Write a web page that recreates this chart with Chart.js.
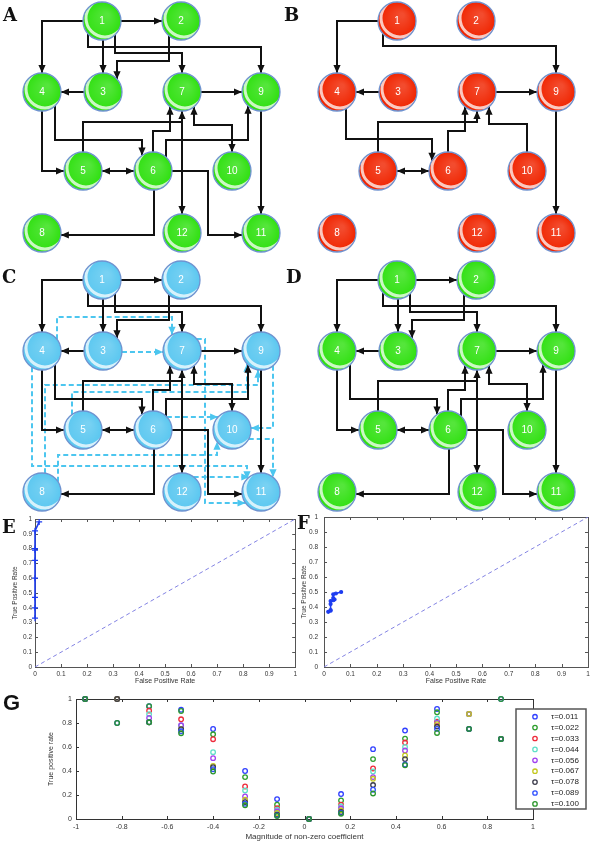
<!DOCTYPE html>
<html><head><meta charset="utf-8">
<script src="https://cdn.jsdelivr.net/npm/chart.js@4.4.1/dist/chart.umd.min.js"></script>
<style>
body{margin:0;background:#fff;width:600px;height:843px;position:relative;overflow:hidden}
canvas{position:absolute}
.lbl{position:absolute;font:bold 18px "DejaVu Serif",serif;color:#111;line-height:18px}
.lblG{position:absolute;font:bold 22px "Liberation Sans",Arial,sans-serif;color:#111;line-height:22px}
</style></head><body>
<canvas id="cA" width="300" height="255" style="left:0;top:0"></canvas>
<canvas id="cB" width="300" height="255" style="left:295px;top:0"></canvas>
<canvas id="cC" width="300" height="255" style="left:0;top:259px"></canvas>
<canvas id="cD" width="300" height="255" style="left:295px;top:259px"></canvas>
<canvas id="cE" width="300" height="190" style="left:0;top:505px"></canvas>
<canvas id="cF" width="300" height="190" style="left:296px;top:505px"></canvas>
<canvas id="cG" width="600" height="153" style="left:0;top:690px"></canvas>
<div class="lbl" style="left:3px;top:6px">A</div>
<div class="lbl" style="left:284px;top:6px">B</div>
<div class="lbl" style="left:2px;top:268px">C</div>
<div class="lbl" style="left:286px;top:268px">D</div>
<div class="lbl" style="left:2px;top:518px">E</div>
<div class="lbl" style="left:297px;top:514px">F</div>
<div class="lblG" style="left:3px;top:692px">G</div>
<script>
// ---------- network data (layout units) ----------
const nodeIds = ['1','2','3','4','5','6','7','8','9','10','11','12'];
const nodeX = [102,181,103,42,83,153,182,42,261,232,261,182];
const nodeY = [21,21,92,92,171,171,92,233,92,171,233,233];
// edge: [from, to, route points, bidirectional]
const trueEdges = [
 [1,2, [[102,21],[181,21]],0],
 [1,4, [[102,21],[42,21],[42,92]],0],
 [1,3, [[103,21],[103,92]],0],
 [2,3, [[169,21],[169,61],[117,61],[117,92]],0],
 [1,7, [[115,21],[115,53],[182,53],[182,92]],0],
 [1,9, [[88,21],[88,47],[261,47],[261,92]],0],
 [3,4, [[103,92],[42,92]],0],
 [7,9, [[182,92],[261,92]],0],
 [4,5, [[42,92],[42,171],[83,171]],0],
 [4,6, [[55,92],[55,140],[142,140],[142,171]],0],
 [5,7, [[83,171],[83,122],[182,122],[182,92]],0],
 [6,7, [[153,171],[153,131],[170,131],[170,92]],0],
 [5,6, [[83,171],[153,171]],1],
 [6,9, [[166,171],[166,140],[248,140],[248,92]],0],
 [7,10,[[194,92],[194,125],[232,125],[232,171]],1],
 [9,11,[[261,92],[261,233]],0],
 [6,8, [[154,171],[154,235],[42,235]],0],
 [6,11,[[153,171],[208,171],[208,235],[261,235]],0],
 [7,12,[[182,92],[182,233]],0]
];
const bEdges = [
 [1,4, [[102,21],[42,21],[42,92]],0],
 [1,9, [[88,21],[88,46],[261,46],[261,92]],0],
 [3,4, [[103,92],[42,92]],0],
 [7,9, [[182,92],[261,92]],0],
 [4,6, [[51,92],[51,139],[137,139],[137,171]],0],
 [5,6, [[83,171],[153,171]],1],
 [5,7, [[83,171],[83,122],[182,122],[182,92]],0],
 [6,7, [[153,171],[153,131],[170,131],[170,92]],0],
 [10,7,[[232,171],[232,124],[194,124],[194,92]],0],
 [9,11,[[261,92],[261,233]],0]
];
const cFalseEdges = [
 [4,7, [[57,92],[57,58],[172,58],[172,92]],0],
 [3,7, [[103,93],[182,93]],0],
 [7,11,[[190,80],[205,80],[205,244],[261,244]],0],
 [4,11,[[32,98],[32,207],[247,207],[247,233]],0],
 [8,9, [[45,233],[45,126],[258,126],[258,92]],0],
 [5,9, [[72,171],[72,133],[247,133],[247,92]],0],
 [6,10,[[160,158],[225,158]],0],
 [8,10,[[58,225],[58,196],[217,196],[217,180]],0],
 [9,10,[[273,100],[273,169],[232,169]],0],
 [10,11,[[245,180],[273,180],[273,233]],0],
 [12,11,[[190,218],[255,218]],0]
];

// ---------- ROC data ----------
const rocTicks = [0,0.1,0.2,0.3,0.4,0.5,0.6,0.7,0.8,0.9,1];
const eFpr = [0,0,0,0,0,0,0,0,0.016];
const eTpr = [0.33,0.40,0.47,0.60,0.72,0.79,0.80,0.92,0.98];
const fFpr = [0.016,0.025,0.025,0.025,0.025,0.035,0.040,0.035,0.035,0.045,0.065];
const fTpr = [0.368,0.375,0.38,0.42,0.44,0.445,0.45,0.46,0.485,0.49,0.50];
const diagX = [0,1];
const diagY = [0,1];

// ---------- panel G data ----------
const gX = [-0.96,-0.82,-0.68,-0.54,-0.40,-0.26,-0.12,0.02,0.16,0.30,0.44,0.58,0.72,0.86];
const gXTicks = [-1,-0.8,-0.6,-0.4,-0.2,0,0.2,0.4,0.6,0.8,1];
const gYTicks = [0,0.2,0.4,0.6,0.8,1];
const tauLabels = ['τ=0.011','τ=0.022','τ=0.033','τ=0.044','τ=0.056','τ=0.067','τ=0.078','τ=0.089','τ=0.100'];
const tau011 = [1,1,0.94,0.91,0.75,0.40,0.166,0,0.208,0.582,0.737,0.917,0.875,1];
const tau022 = [1,1,0.94,0.90,0.706,0.349,0.119,0,0.155,0.499,0.670,0.889,0.875,1];
const tau033 = [1,1,0.903,0.831,0.665,0.271,0.091,0,0.12,0.421,0.637,0.81,0.875,0.667];
const tau044 = [1,1,0.873,0.78,0.557,0.238,0.078,0,0.105,0.396,0.601,0.837,0.875,0.667];
const tau056 = [1,1,0.842,0.781,0.507,0.188,0.064,0,0.089,0.349,0.571,0.80,0.875,0.667];
const tau067 = [1,1,0.806,0.748,0.443,0.16,0.05,0,0.072,0.335,0.529,0.79,0.875,0.667];
const tau078 = [1,1,0.806,0.748,0.432,0.141,0.036,0,0.058,0.283,0.499,0.77,0.751,0.667];
const tau089 = [1,0.80,0.806,0.731,0.415,0.127,0.03,0,0.05,0.244,0.454,0.751,0.751,0.667];
const tau100 = [1,0.80,0.806,0.715,0.396,0.114,0.025,0,0.044,0.213,0.448,0.717,0.751,0.667];
const tauSeries = [tau011,tau022,tau033,tau044,tau056,tau067,tau078,tau089,tau100];
const tauColors = ['#2f3fff','#2e9e2e','#ee2a3a','#5fe0c8','#a040f0','#c4c81e','#3a3a4a','#2f4fff','#2a962a'];

// ---------- helpers ----------
const FONT = '"Liberation Sans", Arial, sans-serif';
const NODE_R = 19;
Chart.defaults.font.family = FONT;

function clipToCircle(P, Q, C, R) {
  const dx=Q[0]-P[0], dy=Q[1]-P[1], fx=P[0]-C[0], fy=P[1]-C[1];
  const a=dx*dx+dy*dy, b=2*(fx*dx+fy*dy), c=fx*fx+fy*fy-R*R;
  const disc=b*b-4*a*c;
  if (a===0 || disc<0) return P;
  const t=(-b+Math.sqrt(disc))/(2*a);
  if (t<0 || t>1) return P;
  return [P[0]+t*dx, P[1]+t*dy];
}
function edgeDataset(e, color, dashed) {
  const [f,t,path,both] = e;
  const pts = path.map(p=>p.slice());
  const n = pts.length;
  pts[0] = clipToCircle(pts[0], pts[1], [nodeX[f-1],nodeY[f-1]], NODE_R);
  pts[n-1] = clipToCircle(pts[n-1], pts[n-2], [nodeX[t-1],nodeY[t-1]], NODE_R);
  return {
    data: pts.map(p=>({x:p[0], y:p[1]})),
    showLine:true, borderColor:color, backgroundColor:color, borderWidth:2,
    borderDash: dashed ? [5,3] : [], borderJoinStyle:'miter',
    pointRadius:0, tension:0, fill:false,
    arrow:{end:true, start:!!both}, order: dashed ? 2 : 1
  };
}
const arrowPlugin = {
  id:'arrows',
  afterDatasetDraw(chart, args) {
    const ds = chart.data.datasets[args.index];
    if (!ds.arrow) return;
    const pts = args.meta.data, ctx = chart.ctx, n = pts.length;
    const draw = (a, b) => {
      const ang = Math.atan2(b.y-a.y, b.x-a.x), L = 8, W = 3.6;
      const c = Math.cos(ang), s = Math.sin(ang);
      ctx.save(); ctx.fillStyle = ds.borderColor; ctx.beginPath();
      ctx.moveTo(b.x, b.y);
      ctx.lineTo(b.x-L*c+W*s, b.y-L*s-W*c);
      ctx.lineTo(b.x-L*c-W*s, b.y-L*s+W*c);
      ctx.closePath(); ctx.fill(); ctx.restore();
    };
    if (ds.arrow.end) draw(pts[n-2], pts[n-1]);
    if (ds.arrow.start) draw(pts[1], pts[0]);
  }
};
const nodePlugin = {
  id:'nodes',
  afterDatasetsDraw(chart) {
    chart.data.datasets.forEach((ds, di) => {
      if (!ds.isNodes) return;
      const meta = chart.getDatasetMeta(di), ctx = chart.ctx;
      meta.data.forEach((pt, i) => {
        const r = ds.pointRadius;
        ctx.save();
        ctx.beginPath(); ctx.arc(pt.x, pt.y, r, 0, Math.PI*2); ctx.clip();
        const g = ctx.createRadialGradient(pt.x+5, pt.y-6, 2, pt.x, pt.y, r);
        g.addColorStop(0, 'rgba(255,255,255,0.18)');
        g.addColorStop(1, 'rgba(255,255,255,0)');
        ctx.fillStyle = g; ctx.fillRect(pt.x-r, pt.y-r, 2*r, 2*r);
        ctx.beginPath(); ctx.arc(pt.x+3, pt.y-3, r, 0, Math.PI*2);
        ctx.strokeStyle = 'rgba(255,255,255,0.75)'; ctx.lineWidth = 3; ctx.stroke();
        ctx.restore();
        ctx.save();
        ctx.beginPath(); ctx.arc(pt.x, pt.y, r, 0, Math.PI*2);
        ctx.strokeStyle = '#6f93d0'; ctx.lineWidth = 1.3; ctx.stroke();
        ctx.fillStyle = '#fff'; ctx.font = '10px ' + FONT;
        ctx.textAlign = 'center'; ctx.textBaseline = 'middle';
        ctx.fillText(ds.labels[i], pt.x, pt.y+0.5);
        ctx.restore();
      });
    });
  }
};
function makeNet(id, fill, edges, falseEdges) {
  const ds = [{
    isNodes:true, labels: nodeIds,
    data: nodeX.map((x,i)=>({x, y:nodeY[i]})),
    pointRadius: NODE_R, pointBackgroundColor: fill, pointBorderColor: fill,
    pointBorderWidth: 0, showLine:false, order:0
  }];
  edges.forEach(e => ds.push(edgeDataset(e, '#111', false)));
  (falseEdges||[]).forEach(e => ds.push(edgeDataset(e, '#4cc6ef', true)));
  new Chart(document.getElementById(id), {
    type:'scatter', data:{datasets:ds},
    options:{
      responsive:false, animation:false, events:[],
      layout:{padding:0, autoPadding:false},
      plugins:{legend:{display:false}, tooltip:{enabled:false}},
      scales:{
        x:{type:'linear', display:false, min:0, max:300},
        y:{type:'linear', display:false, min:0, max:255, reverse:true}
      }
    },
    plugins:[arrowPlugin, nodePlugin]
  });
}
makeNet('cA', '#2fe010', trueEdges);
makeNet('cB', '#f02400', bEdges);
makeNet('cC', '#5ac7f0', trueEdges, cFalseEdges);
makeNet('cD', '#2fe010', trueEdges);

// MATLAB-style box with inward ticks
const boxPlugin = {
  id:'mbox',
  beforeDatasetsDraw(chart, args, opts) {
    const {ctx, chartArea:a} = chart, x = chart.scales.x, y = chart.scales.y;
    const L = opts.tick || 3;
    ctx.save(); ctx.strokeStyle = opts.color || '#444'; ctx.lineWidth = 1;
    ctx.strokeRect(Math.round(a.left)+0.5, Math.round(a.top)+0.5, Math.round(a.right-a.left), Math.round(a.bottom-a.top));
    ctx.beginPath();
    x.ticks.forEach(t => { const p = Math.round(x.getPixelForValue(t.value))+0.5;
      ctx.moveTo(p, a.bottom); ctx.lineTo(p, a.bottom-L); ctx.moveTo(p, a.top); ctx.lineTo(p, a.top+L); });
    y.ticks.forEach(t => { const p = Math.round(y.getPixelForValue(t.value))+0.5;
      ctx.moveTo(a.left, p); ctx.lineTo(a.left+L, p); ctx.moveTo(a.right, p); ctx.lineTo(a.right-L, p); });
    ctx.stroke(); ctx.restore();
  }
};

function makeRoc(id, xs, ys, cfg) {
  new Chart(document.getElementById(id), {
    type:'scatter',
    data:{datasets:[
      {data: xs.map((x,i)=>({x, y:ys[i]})), showLine:true, borderColor:'#1d3cf0', backgroundColor:'#1d3cf0',
       borderWidth:1.6, pointStyle:cfg.pointStyle, pointRadius:cfg.pointRadius, pointBorderWidth:1.2, tension:0, order:0, clip:false},
      {data: diagX.map((x,i)=>({x, y:diagY[i]})), showLine:true, borderColor:'#7575e0', borderWidth:0.9,
       borderDash:[4,3], pointRadius:0, tension:0, order:1}
    ]},
    options:{
      responsive:false, animation:false, events:[],
      layout:{padding:cfg.padding, autoPadding:false},
      plugins:{legend:{display:false}, tooltip:{enabled:false}, mbox:{color:'#555', tick:3}},
      scales:{
        x:{type:'linear', min:0, max:1,
           afterBuildTicks: s => { s.ticks = rocTicks.map(v=>({value:v})); },
           ticks:{callback: v=>String(v), font:{size:6.5}, color:'#333', padding:3, maxRotation:0, autoSkip:false},
           grid:{display:false, drawTicks:false}, border:{display:false},
           title:{display:true, text:'False Positive Rate', font:{size:7}, color:'#333', padding:{top:0, bottom:10}},
           afterFit: s => { s.height = 28; }},
        y:{type:'linear', min:0, max:1,
           afterBuildTicks: s => { s.ticks = rocTicks.map(v=>({value:v})); },
           ticks:{callback: v=>String(v), font:{size:6.5}, color:'#333', padding:cfg.yTickPad, autoSkip:false},
           grid:{display:false, drawTicks:false}, border:{display:false},
           title:{display:true, text:'True Positive Rate', font:{size:6.5}, color:'#333', padding:{top:cfg.yTitlePad, bottom:0}},
           afterFit: s => { s.width = cfg.yWidth; }}
      }
    },
    plugins:[boxPlugin]
  });
}
makeRoc('cE', eFpr, eTpr, {pointStyle:'cross', pointRadius:3, padding:{left:0, top:14, right:2, bottom:0}, yTickPad:3, yTitlePad:11, yWidth:35});
makeRoc('cF', fFpr, fTpr, {pointStyle:'circle', pointRadius:1.5, padding:{left:0, top:12, right:8, bottom:0}, yTickPad:6, yTitlePad:4, yWidth:28});

// legend for G
const gLegendPlugin = {
  id:'glegend',
  afterDraw(chart) {
    const ctx = chart.ctx, a = chart.chartArea;
    const bx = a.right - 17, by = 19, bw = 70, bh = 100;
    ctx.save();
    ctx.fillStyle = '#fff'; ctx.fillRect(bx, by, bw, bh);
    ctx.strokeStyle = '#555'; ctx.lineWidth = 1.5; ctx.strokeRect(bx, by, bw, bh);
    ctx.font = '8px ' + FONT; ctx.textBaseline = 'middle'; ctx.fillStyle = '#222';
    chart.data.datasets.forEach((ds, i) => {
      const yy = by + 7.7 + i * 10.9;
      ctx.beginPath(); ctx.arc(bx + 19, yy, 2.2, 0, Math.PI*2);
      ctx.strokeStyle = ds.borderColor; ctx.lineWidth = 1.3; ctx.stroke();
      ctx.fillStyle = '#222'; ctx.fillText(ds.label, bx + 35, yy);
    });
    ctx.restore();
  }
};
new Chart(document.getElementById('cG'), {
  type:'scatter',
  data:{datasets: tauSeries.map((vals, i) => ({
    label: tauLabels[i], data: gX.map((x,k)=>({x, y:vals[k]})),
    borderColor: tauColors[i], backgroundColor:'rgba(0,0,0,0)', pointRadius:2.3, pointBorderWidth:1.3,
    showLine:false, order: tauSeries.length - i, clip:false
  }))},
  options:{
    responsive:false, animation:false, events:[],
    layout:{padding:{left:0, top:9, right:67, bottom:0}, autoPadding:false},
    plugins:{legend:{display:false}, tooltip:{enabled:false}, mbox:{color:'#333', tick:3}},
    scales:{
      x:{type:'linear', min:-1, max:1,
         afterBuildTicks: s => { s.ticks = gXTicks.map(v=>({value:v})); },
         ticks:{callback: v=>String(v), font:{size:7}, color:'#333', padding:3.5, maxRotation:0, autoSkip:false},
         grid:{display:false, drawTicks:false}, border:{display:false},
         title:{display:true, text:'Magnitude of non-zero coefficient', font:{size:8}, color:'#333', padding:{top:0, bottom:1.5}},
         afterFit: s => { s.height = 24; }},
      y:{type:'linear', min:0, max:1,
         afterBuildTicks: s => { s.ticks = gYTicks.map(v=>({value:v})); },
         ticks:{callback: v=>String(v), font:{size:7}, color:'#333', padding:4, autoSkip:false},
         grid:{display:false, drawTicks:false}, border:{display:false},
         title:{display:true, text:'True positive rate', font:{size:7}, color:'#333', padding:{top:47, bottom:0}},
         afterFit: s => { s.width = 76; }}
    }
  },
  plugins:[boxPlugin, gLegendPlugin]
});
</script>
</body></html>
